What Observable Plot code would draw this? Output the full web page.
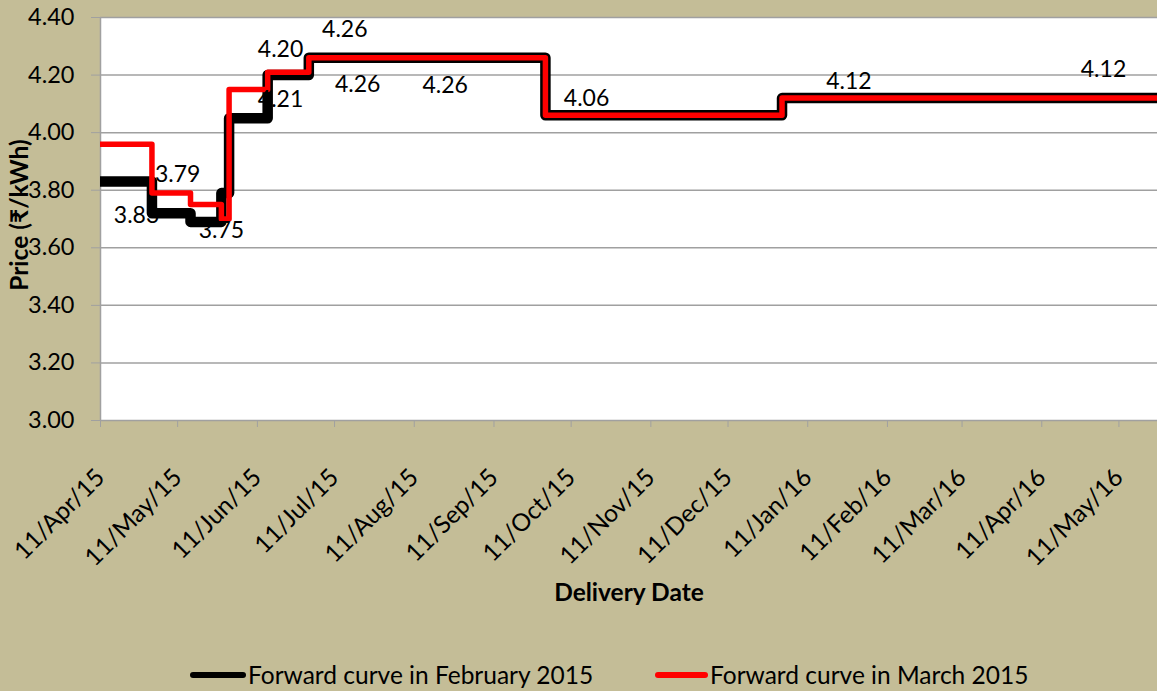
<!DOCTYPE html>
<html><head><meta charset="utf-8">
<script src="https://cdn.jsdelivr.net/npm/d3@7"></script>
<script src="https://cdn.jsdelivr.net/npm/@observablehq/plot@0.6"></script>
<style>
html,body{margin:0;padding:0;background:#C4BD97;}
#chart{width:1157px;height:691px;position:relative;overflow:hidden;background:#C4BD97;font-family:Lato,"Noto Sans",sans-serif;}
#legend{position:absolute;left:0;top:654px;width:1157px;height:41px;}
.lg{position:absolute;top:0;height:41px;display:flex;align-items:center;font-size:24.5px;color:#000;white-space:nowrap;}
.sw{display:inline-block;height:6px;border-radius:3px;margin-right:2px;}
</style></head><body><div id="chart"></div>
<script>
// ---- data ----
const stepDates = ["2015-04-11","2015-05-01","2015-05-16","2015-05-28","2015-05-31","2015-06-15","2015-07-01","2015-10-01","2016-01-01","2016-05-26"];
const febValues = [3.83, 3.72, 3.69, 3.79, 4.05, 4.20, 4.26, 4.06, 4.12, 4.12];
const marValues = [3.96, 3.79, 3.75, 3.70, 4.15, 4.21, 4.26, 4.06, 4.12, 4.12];
const seriesNames = ["Forward curve in February 2015", "Forward curve in March 2015"];
const yTicks = [3.00, 3.20, 3.40, 3.60, 3.80, 4.00, 4.20, 4.40];
const xTickDates = ["2015-04-11","2015-05-11","2015-06-11","2015-07-11","2015-08-11","2015-09-11","2015-10-11","2015-11-11","2015-12-11","2016-01-11","2016-02-11","2016-03-11","2016-04-11","2016-05-11"];
const labelDates = ["2015-04-25","2015-05-11","2015-05-28","2015-06-20","2015-06-20","2015-07-15","2015-07-20","2015-08-23","2015-10-17","2016-01-27","2016-05-05"];
const labelValues = [3.83, 3.79, 3.75, 4.21, 4.20, 4.26, 4.26, 4.26, 4.06, 4.12, 4.12];
const xTitle = "Delivery Date";
const yTitle = "Price (₹/kWh)";

// ---- presentation ----
const colors = ["#000000", "#FF0000"];
const widths = [10.5, 5.5];
const labelDy = [34, -18, 26, 27, -25, -28, 27, 28, -17, -16, -28];
const fmt = d3.format(".2f");
const gridColor = "#A0A0A0";

const xDomain = [new Date(stepDates[0]), new Date(stepDates[stepDates.length - 1])];
const series = [febValues, marValues].map((vals, s) =>
  stepDates.map((d, i) => ({date: new Date(d), value: vals[i], s})));

const labelMarks = labelDates.map((d, i) =>
  Plot.text([{date: new Date(d), value: labelValues[i]}], {
    x: "date", y: "value", text: r => fmt(r.value), dy: labelDy[i],
    fontSize: 23, fill: "#000", lineAnchor: "middle"
  }));

const chart = Plot.plot({
  width: 1157, height: 650,
  marginLeft: 100, marginRight: 0, marginTop: 17, marginBottom: 230,
  style: {background: "#C4BD97", fontFamily: "Lato, 'Noto Sans', sans-serif", overflow: "visible"},
  x: {type: "utc", domain: xDomain},
  y: {domain: [3, 4.4]},
  marks: [
    Plot.frame({fill: "white", stroke: null}),
    Plot.gridY(yTicks, {stroke: gridColor, strokeOpacity: 1, strokeWidth: 1.5}),
    Plot.ruleX([xDomain[0]], {stroke: gridColor, strokeWidth: 1.5}),
    Plot.axisY({ticks: yTicks, tickFormat: fmt, tickSize: 9, tickPadding: 17, fontSize: 23.5, stroke: gridColor, fill: "#000", label: null}),
    Plot.axisX({ticks: xTickDates.map(d => new Date(d)), tickFormat: d3.utcFormat("%d/%b/%y"), tickRotate: -45, tickSize: 7, tickPadding: 46, fontSize: 24.5, stroke: gridColor, fill: "#000", label: null}),
    ...series.map((data, s) => Plot.line(data, {x: "date", y: "value", curve: "step-after", stroke: colors[s], strokeWidth: widths[s], clip: true})),
    ...labelMarks,
    Plot.text([xTitle], {frameAnchor: "bottom", dy: 173, text: d => d, fontSize: 24.5, fontWeight: "bold", fill: "#000", lineAnchor: "middle"}),
    Plot.text([yTitle], {frameAnchor: "left", dx: -80, dy: -4, rotate: -90, text: d => d, fontSize: 24.5, fontWeight: "bold", fill: "#000", textAnchor: "middle", lineAnchor: "middle"})
  ]
});
const root = document.getElementById("chart");
root.appendChild(chart);

// legend
const legend = document.createElement("div");
legend.id = "legend";
const lgLeft = [190, 655];
const swLen = [56, 53];
seriesNames.forEach((name, s) => {
  const item = document.createElement("div");
  item.className = "lg";
  item.style.left = lgLeft[s] + "px";
  const sw = document.createElement("span");
  sw.className = "sw";
  sw.style.width = swLen[s] + "px";
  sw.style.background = colors[s];
  item.appendChild(sw);
  item.appendChild(document.createTextNode(name));
  legend.appendChild(item);
});
root.appendChild(legend);
</script>
</body></html>
